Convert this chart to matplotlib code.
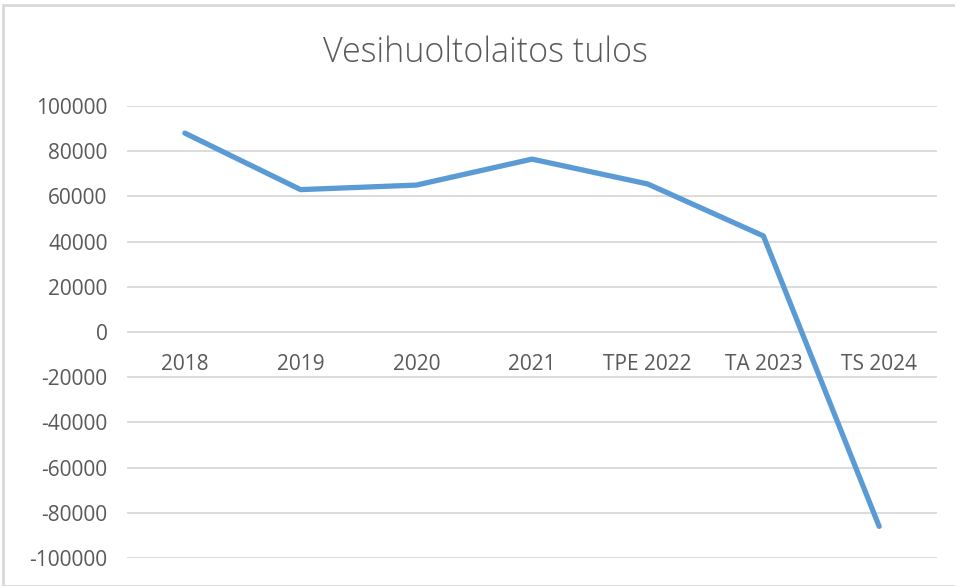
import matplotlib
matplotlib.use("Agg")
import matplotlib.pyplot as plt
from matplotlib.patches import Rectangle

categories = ["2018", "2019", "2020", "2021", "TPE 2022", "TA 2023", "TS 2024"]
values = [88000, 63000, 65000, 76500, 65500, 42500, -86000]
yticks = list(range(-100000, 100001, 20000))

plt.rcParams['font.family'] = ['Open Sans', 'DejaVu Sans']

fig = plt.figure(figsize=(9.55, 5.86), dpi=100)
ax = fig.add_axes([127/955, 1-558/586, (937-127)/955, (558-106)/586])

# border of the chart area
fig.patches.append(Rectangle((3/955, 0), 1, 1-5/586, transform=fig.transFigure,
                             fill=False, edgecolor="#d9d9d9", linewidth=2, zorder=0))

x = list(range(len(categories)))
ax.plot(x, values, color="#5B9BD5", linewidth=3.8, solid_capstyle="round",
        solid_joinstyle="round", zorder=3)

ax.set_xlim(-0.5, len(categories) - 0.5)
ax.set_ylim(-100000, 100000)
ax.set_yticks(yticks)
ax.set_yticklabels([str(v) for v in yticks])
ax.grid(axis="y", color="#d9d9d9", linewidth=1.3)
ax.set_axisbelow(True)

ax.set_xticks(x)
ax.set_xticklabels(categories)
ax.spines['bottom'].set_position(('data', 0))
for s in ["top", "right", "left", "bottom"]:
    ax.spines[s].set_visible(False)
ax.tick_params(axis="both", length=0, colors="#595959", labelsize=15)
ax.tick_params(axis="y", pad=14)
ax.tick_params(axis="x", pad=16)

fig.text(485/955, 1-62/586, "Vesihuoltolaitos tulos", ha="center", va="baseline",
         fontsize=24.5, color="#595959", fontweight="light")

fig.savefig("out.png", dpi=100)
